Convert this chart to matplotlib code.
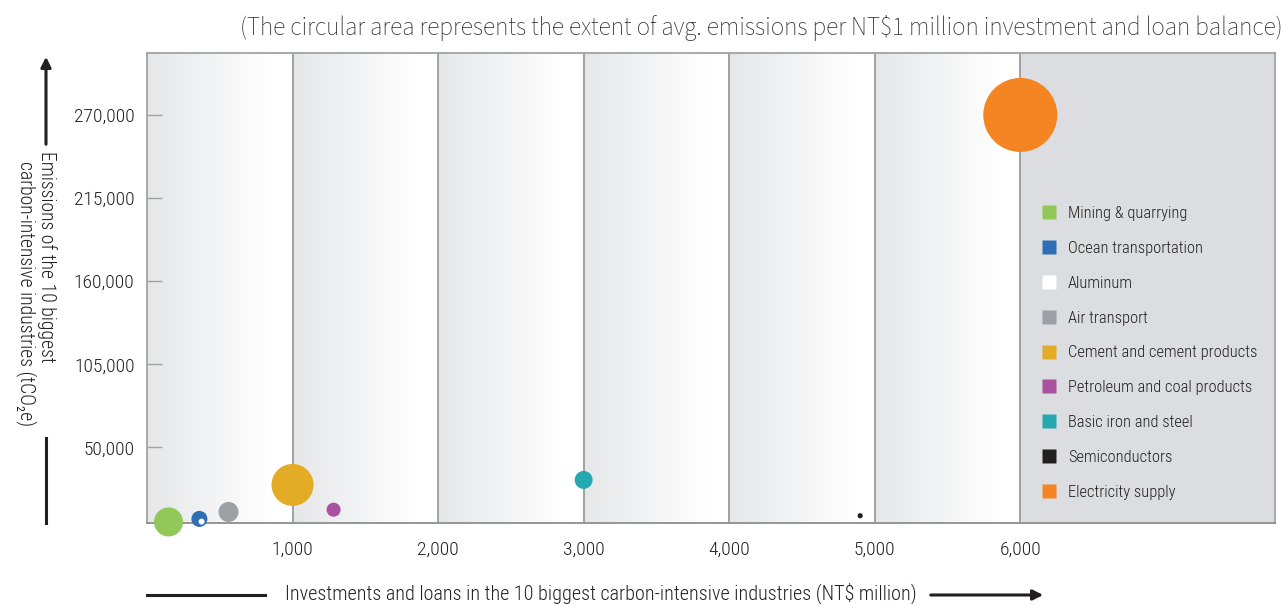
import numpy as np
import matplotlib
matplotlib.use("Agg")
import matplotlib.pyplot as plt
from matplotlib import font_manager
from matplotlib.lines import Line2D
from matplotlib.patches import FancyArrowPatch

# ---------------- data ----------------
categories = ["Mining & quarrying", "Ocean transportation", "Aluminum", "Air transport",
              "Cement and cement products", "Petroleum and coal products",
              "Basic iron and steel", "Semiconductors", "Electricity supply"]
investment = [148, 360, 375, 560, 1000, 1282, 3000, 4900, 6000]          # NT$ million
emissions = [700, 2700, 900, 7300, 25200, 8800, 28500, 4800, 270000]      # tCO2e
intensity = [15.4, 4.7, 0.66, 7.3, 32.2, 3.6, 5.9, 0.5, 100.0]            # relative bubble area
colors = ["#92c85a", "#2f6db5", "#ffffff", "#9aa0a6", "#e3ac27",
          "#a9509f", "#26a8b0", "#231f20", "#f58522"]
x_ticks = [1000, 2000, 3000, 4000, 5000, 6000]
y_ticks = [50000, 105000, 160000, 215000, 270000]

# ---------------- fonts ----------------
names = {f.name for f in font_manager.fontManager.ttflist}
def pick(cands):
    for c in cands:
        if c in names:
            return c
    return "DejaVu Sans"
cond = pick(["Roboto Condensed", "Archivo Narrow", "PT Sans Narrow", "Liberation Sans"])
note_font = pick(["Source Sans 3", "Source Sans Pro", "Open Sans"])
fam = [cond, "DejaVu Sans"]
CW = "light"
INK = "#231f20"

W, H = 1288, 604
fig = plt.figure(figsize=(W / 100, H / 100), dpi=100)
L, R, T, B = 147, 1275, 53, 523
ax = fig.add_axes([L / W, 1 - B / H, (R - L) / W, (B - T) / H])

xmax, ymax = 7750, 311000
ax.set_xlim(0, xmax)
ax.set_ylim(0, ymax)

# background bands: gradient light grey -> white in each 1,000 interval
grad = np.linspace(0, 1, 256)
c0 = np.array([0.902, 0.906, 0.914])
c1 = np.array([1.0, 1.0, 1.0])
tt = np.clip(grad / 0.85, 0, 1)
img = (c0[None, :] * (1 - tt[:, None]) + c1[None, :] * tt[:, None])[None, :, :]
for k in range(6):
    ax.imshow(img, extent=[k * 1000, (k + 1) * 1000, 0, ymax], aspect="auto",
              zorder=0, interpolation="bilinear")
ax.axvspan(6000, xmax, color="#dcdde0", zorder=0.5, lw=0)
for xv in x_ticks:
    ax.axvline(xv, color="#9b9b9b", lw=1.3, zorder=1)

# bubbles
scale = 28.4
order = [8, 4, 0, 3, 1, 6, 5, 7, 2]
for i in order:
    ax.scatter(investment[i], emissions[i], s=intensity[i] * scale, color=colors[i],
               edgecolors="none", zorder=3 + (1 if i == 2 else 0), clip_on=False)

# axes styling
for sp in ax.spines.values():
    sp.set_color("#a3a3a3")
    sp.set_linewidth(1.3)
ax.spines["bottom"].set_color("#8e8e8e")
ax.set_xticks(x_ticks)
ax.set_xticklabels([f"{v:,}" for v in x_ticks], family=fam, fontsize=14, color=INK, fontweight=CW)
ax.set_yticks(y_ticks)
ax.set_yticklabels([f"{v:,}" for v in y_ticks], family=fam, fontsize=14, color=INK, fontweight=CW)
ax.tick_params(axis="x", length=0, pad=13)
ax.tick_params(axis="y", direction="in", length=11, width=1, color="#a3a3a3", pad=9)

# legend
handles = [Line2D([0], [0], marker="s", linestyle="none", markersize=9.5,
                  markerfacecolor=c, markeredgecolor="none") for c in colors]
leg = ax.legend(handles, categories, loc="upper left",
                bbox_to_anchor=((1041 - L) / (R - L), 1 - (206 - T) / (B - T)),
                frameon=False, prop={"family": fam, "size": 11.9, "weight": CW}, labelspacing=1.2,
                handletextpad=0.62, handlelength=1.0, borderaxespad=0, borderpad=0)
for txt in leg.get_texts():
    txt.set_color(INK)

# top note
fig.text(1283 / W, 1 - 28 / H,
         "(The circular area represents the extent of avg. emissions per NT$1 million investment and loan balance)",
         ha="right", va="center", fontsize=18.2, family=[note_font, "DejaVu Sans"],
         fontweight="light", color="#2a2a2a")

# y label with arrows
fig.text(47 / W, 1 - 151 / H, "Emissions of the 10 biggest", rotation=-90, rotation_mode="anchor",
         ha="left", va="center", family=fam, fontsize=14.2, color=INK, fontweight=CW)
fig.text(26 / W, 1 - 161 / H, "carbon-intensive industries (tCO\u2082e)", rotation=-90, rotation_mode="anchor",
         ha="left", va="center", family=fam, fontsize=14.2, color=INK, fontweight=CW)
fig.add_artist(FancyArrowPatch((46 / W, 1 - 147 / H), (46 / W, 1 - 54 / H),
               transform=fig.transFigure, arrowstyle="-|>,head_length=6,head_width=3",
               color=INK, lw=2.2, mutation_scale=1))
fig.add_artist(Line2D([46 / W, 46 / W], [1 - 438 / H, 1 - 523 / H], transform=fig.transFigure,
                      color=INK, lw=2.2))

# x label with arrows
fig.text(601 / W, 1 - 593 / H,
         "Investments and loans in the 10 biggest carbon-intensive industries (NT$ million)",
         ha="center", va="center", family=fam, fontsize=14.5, color=INK, fontweight=CW)
fig.add_artist(Line2D([147 / W, 265 / W], [1 - 595 / H, 1 - 595 / H], transform=fig.transFigure,
                      color=INK, lw=2.2))
fig.add_artist(FancyArrowPatch((928 / W, 1 - 595 / H), (1046 / W, 1 - 595 / H),
               transform=fig.transFigure, arrowstyle="-|>,head_length=6,head_width=3",
               color=INK, lw=2.2, mutation_scale=1))

fig.savefig("out.png", dpi=100)
